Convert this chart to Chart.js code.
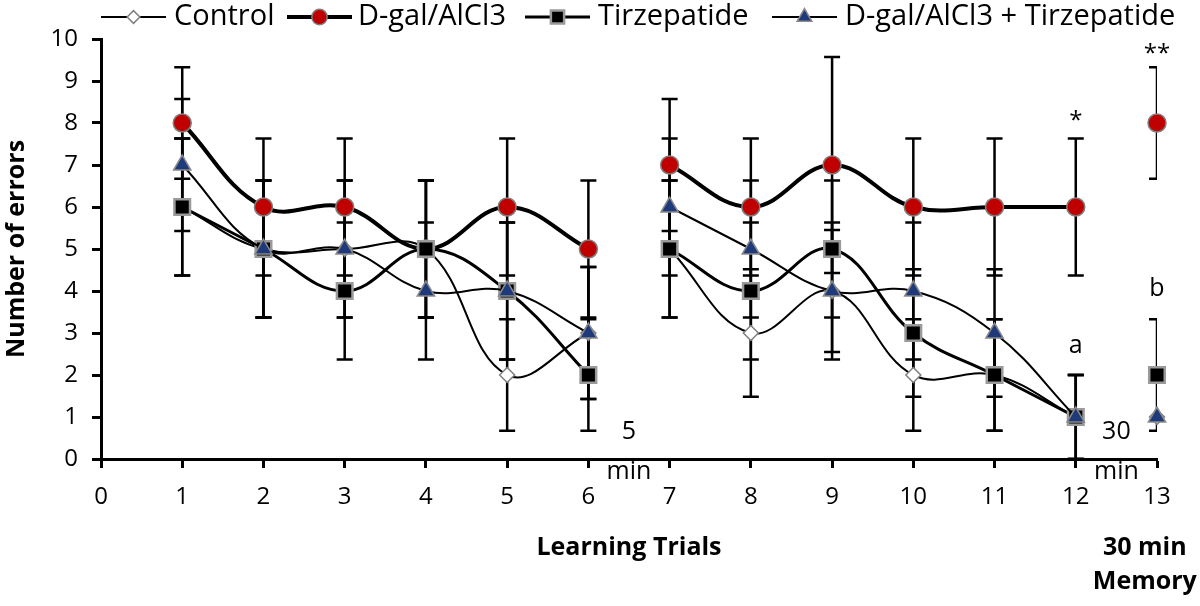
<!DOCTYPE html>
<html>
<head>
<meta charset="utf-8">
<script src="https://cdn.jsdelivr.net/npm/chart.js@4.4.1/dist/chart.umd.min.js"></script>
<style>
  html, body { margin: 0; padding: 0; background: #fff; }
  #wrap { width: 1200px; height: 606px; }
</style>
</head>
<body>
<div id="wrap"><canvas id="chart" width="1200" height="606"></canvas></div>
<script>
// trials 1-6 (learning, part 1), 7-12 (after 5 min), 13 = 30 min memory
const trials = [1, 2, 3, 4, 5, 6, 7, 8, 9, 10, 11, 12, 13];

const controlMean = [6, 5, 5, 5, 2, 3, 5, 3, 4, 2, 2, 1, 1];
const controlErr  = [1.63, 1.63, 1.63, 1.63, 1.33, 1.57, 1.63, 1.52, 1.45, 1.33, 1.33, 1, 0];

const dgalMean = [8, 6, 6, 5, 6, 5, 7, 6, 7, 6, 6, 6, 8];
const dgalErr  = [1.33, 1.63, 1.63, 1.63, 1.63, 1.63, 1.57, 1.63, 2.57, 1.63, 1.63, 1.63, 1.33];

const tirzMean = [6, 5, 4, 5, 4, 2, 5, 4, 5, 3, 2, 1, 2];
const tirzErr  = [1.63, 1.63, 1.63, 1.63, 1.63, 1.33, 1.63, 1.63, 1.63, 1.52, 1.33, 1, 1.33];

const comboMean = [7, 5, 5, 4, 4, 3, 6, 5, 4, 4, 3, 1, 1];
const comboErr  = [1.57, 1.63, 1.63, 1.63, 1.63, 1.57, 1.63, 1.63, 1.63, 1.63, 1.52, 1, 0];

const legendLabels = ["Control", "D-gal/AlCl3", "Tirzepatide", "D-gal/AlCl3 + Tirzepatide"];

const FONT = "'Open Sans', 'DejaVu Sans', sans-serif";

// break the line after trial 6 and trial 12
function toPoints(means) {
    const pts = [];
    trials.forEach((t, i) => {
        pts.push({ x: t, y: means[i] });
        if (t === 6 || t === 12) pts.push({ x: t + 0.5, y: null });
    });
    return pts;
}

const series = [
    { label: legendLabels[0], mean: controlMean, err: controlErr, style: "rectRot", radius: 7.5,
      fill: "#ffffff", border: "#7f7f7f", bw: 1.5, lw: 2, order: 3 },
    { label: legendLabels[1], mean: dgalMean, err: dgalErr, style: "circle", radius: 9,
      fill: "#c00000", border: "#7f7f7f", bw: 1.5, lw: 4, order: 2 },
    { label: legendLabels[2], mean: tirzMean, err: tirzErr, style: "rect", radius: 11,
      fill: "#000000", border: "#9a9a9a", bw: 2.5, lw: 3, order: 1 },
    { label: legendLabels[3], mean: comboMean, err: comboErr, style: "triangle", radius: 10,
      fill: "#1f3a7a", border: "#8a8a8a", bw: 1.5, lw: 2, order: 0 }
];

const errorBars = {
    id: "errorBars",
    beforeDatasetsDraw(chart) {
        const ctx = chart.ctx, xs = chart.scales.x, ys = chart.scales.y, a = chart.chartArea;
        ctx.save();
        ctx.beginPath();
        ctx.rect(a.left - 10, a.top - 10, a.right - a.left + 10, a.bottom - a.top + 10);
        ctx.clip();
        ctx.strokeStyle = "#000";
        ctx.lineWidth = 2.5;
        series.forEach(s => {
            trials.forEach((t, i) => {
                const e = s.err[i];
                if (!e) return;
                const x = xs.getPixelForValue(t);
                const y1 = ys.getPixelForValue(s.mean[i] + e);
                const y2 = ys.getPixelForValue(Math.max(0, s.mean[i] - e));
                ctx.beginPath();
                ctx.moveTo(x, y1); ctx.lineTo(x, y2);
                ctx.moveTo(x - 8, y1); ctx.lineTo(x + 8, y1);
                ctx.moveTo(x - 8, y2); ctx.lineTo(x + 8, y2);
                ctx.stroke();
            });
        });
        ctx.restore();
    }
};

const extras = {
    id: "extras",
    afterDraw(chart) {
        const ctx = chart.ctx, xs = chart.scales.x, ys = chart.scales.y, a = chart.chartArea;
        ctx.save();
        // legend: line with marker in the middle
        const lineX = [101, 287, 525, 772];
        const textX = [174, 358, 598, 845];
        const ly = 17;
        ctx.textBaseline = "middle";
        ctx.textAlign = "left";
        ctx.font = "29px " + FONT;
        series.forEach((s, i) => {
            const x0 = lineX[i], x1 = x0 + 65;
            ctx.strokeStyle = "#000";
            ctx.lineWidth = s.lw;
            ctx.beginPath(); ctx.moveTo(x0, ly); ctx.lineTo(x1, ly); ctx.stroke();
            ctx.fillStyle = s.fill;
            ctx.strokeStyle = s.border;
            ctx.lineWidth = s.bw;
            Chart.helpers.drawPoint(ctx, { pointStyle: s.style, radius: s.radius * 0.85, borderWidth: s.bw, rotation: 0 },
                (x0 + x1) / 2, ly);
            ctx.fillStyle = "#000";
            ctx.fillText(s.label, textX[i], ly);
        });

        // significance marks
        ctx.textAlign = "center";
        ctx.font = "24px " + FONT;
        ctx.fillText("*", xs.getPixelForValue(12), ys.getPixelForValue(8.05));
        ctx.fillText("**", xs.getPixelForValue(13), ys.getPixelForValue(9.65));
        ctx.font = "25px " + FONT;
        ctx.fillText("a", xs.getPixelForValue(12), ys.getPixelForValue(2.7));
        ctx.fillText("b", xs.getPixelForValue(13), ys.getPixelForValue(4.05));

        // interval notes
        ctx.fillText("5", xs.getPixelForValue(6.5), a.bottom - 27);
        ctx.fillText("min", xs.getPixelForValue(6.5), a.bottom + 13);
        ctx.fillText("30", xs.getPixelForValue(12.5), a.bottom - 27);
        ctx.fillText("min", xs.getPixelForValue(12.5), a.bottom + 13);

        // axis captions
        ctx.font = "bold 25px " + FONT;
        ctx.fillText("Learning Trials", xs.getPixelForValue(6.5), a.bottom + 89);
        ctx.fillText("30 min", xs.getPixelForValue(12.85), a.bottom + 89);
        ctx.fillText("Memory", xs.getPixelForValue(12.85), a.bottom + 123);
        ctx.restore();
    }
};

const ctx = document.getElementById("chart").getContext("2d");

const chart = new Chart(ctx, {
    type: "line",
    data: {
        datasets: series.map(s => ({
            label: s.label,
            data: toPoints(s.mean),
            order: s.order,
            borderColor: "#000",
            borderWidth: s.lw,
            tension: 0.4,
            spanGaps: false,
            clip: false,
            pointStyle: s.style,
            pointRadius: s.radius,
            pointHoverRadius: s.radius,
            pointBackgroundColor: s.fill,
            pointBorderColor: s.border,
            pointBorderWidth: s.bw
        }))
    },
    options: {
        responsive: false,
        animation: false,
        events: [],
        layout: { padding: { top: 39, right: 43, left: 0, bottom: 0 } },
        plugins: {
            legend: { display: false },
            tooltip: { enabled: false }
        },
        scales: {
            x: {
                type: "linear",
                min: 0,
                max: 13,
                ticks: { stepSize: 1, color: "#000", padding: 15, font: { family: FONT, size: 24 } },
                grid: { display: true, drawOnChartArea: false, drawTicks: true, tickLength: 9, tickWidth: 3, tickColor: "#000" },
                border: { display: true, color: "#000", width: 3 },
                afterFit(scale) { scale.height = 147; }
            },
            y: {
                min: 0,
                max: 10,
                ticks: { stepSize: 1, color: "#000", padding: 14, font: { family: FONT, size: 24 } },
                grid: { display: true, drawOnChartArea: false, drawTicks: true, tickLength: 9, tickWidth: 3, tickColor: "#000" },
                border: { display: true, color: "#000", width: 3 },
                title: { display: true, text: "Number of errors", color: "#000", padding: 2,
                         font: { family: FONT, size: 25, weight: "bold" } },
                afterFit(scale) { scale.width = 101; }
            }
        }
    },
    plugins: [errorBars, extras]
});
</script>
</body>
</html>
